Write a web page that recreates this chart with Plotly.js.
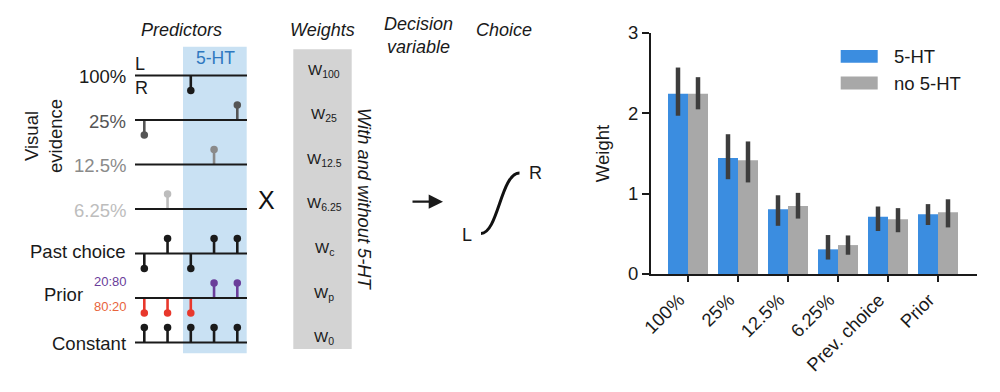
<!DOCTYPE html>
<html>
<head>
<meta charset="utf-8">
<script src="https://cdn.plot.ly/plotly-3.0.1.min.js"></script>
<style>html,body{margin:0;padding:0;background:#fff}#chart{width:1000px;height:392px}</style>
</head>
<body>
<div id="chart"></div>
<script>
// ---------- Bar chart data ----------
const categories = ['100%', '25%', '12.5%', '6.25%', 'Prev. choice', 'Prior'];
const weight5HT = [2.245, 1.445, 0.805, 0.307, 0.714, 0.743];
const weight5HTHigh = [2.57, 1.74, 0.98, 0.485, 0.84, 0.87];
const weight5HTLow = [1.97, 1.18, 0.60, 0.18, 0.535, 0.61];
const weightNo5HT = [2.245, 1.415, 0.847, 0.36, 0.68, 0.768];
const weightNo5HTHigh = [2.45, 1.65, 1.01, 0.48, 0.82, 0.93];
const weightNo5HTLow = [2.05, 1.14, 0.69, 0.24, 0.52, 0.58];
const seriesNames = ['5-HT', 'no 5-HT'];
const yTicks = [0, 1, 2, 3];

// ---------- Schematic data ----------
const predictorLabels = ['100%', '25%', '12.5%', '6.25%', 'Past choice', 'Prior', 'Constant'];
// stem direction per trial (+1 = up/L side, -1 = down/R side, 0 = none)
const predictorStems = [
  [0, 0, -1, 0, 0],
  [-1, 0, 0, 0, 1],
  [0, 0, 0, 1, 0],
  [0, 1, 0, 0, 0],
  [-1, 1, -1, 1, 1],
  [-1, -1, -1, 1, 1],
  [1, 1, 1, 1, 1]
];
const weightLabels = ['W<sub>100</sub>', 'W<sub>25</sub>', 'W<sub>12.5</sub>', 'W<sub>6.25</sub>', 'W<sub>c</sub>', 'W<sub>p</sub>', 'W<sub>0</sub>'];
const priorLabels = ['20:80', '80:20'];
const stageTitles = ['Predictors', 'Weights', 'Decision<br>variable', 'Choice'];

// ---------- styling ----------
const FONT = 'Liberation Sans, Arial, Helvetica, sans-serif';
const FS = 18.5;
const rowColors = ['#1a1a1a', '#555555', '#8a8a8a', '#bdbdbd', '#1a1a1a', '#1a1a1a', '#1a1a1a'];
const purple = '#6a3d9a', red = '#e8382c', orange = '#e8643c';
const rowY0 = 75.5, rowDY = 44.5, lineX0 = 135, lineX1 = 247;
const trialX0 = 144.3, trialDX = 23.25, stemLen = 15;
const blue = '#3b8de0', grey = '#a8a8a8', errColor = '#3d3d3d';

const traces = [];
const shapes = [];
const annotations = [];

// Schematic background elements
shapes.push({type: 'rect', xref: 'x2', yref: 'y2', x0: 183, x1: 246.7, y0: 46.7, y1: 353.3,
  fillcolor: '#c9e1f3', line: {width: 0}, layer: 'below'});
shapes.push({type: 'rect', xref: 'x2', yref: 'y2', x0: 293.3, x1: 351.7, y0: 49.3, y1: 349,
  fillcolor: '#d3d3d3', line: {width: 0}, layer: 'below'});

predictorLabels.forEach((lab, r) => {
  const ry = rowY0 + r * rowDY;
  shapes.push({type: 'line', xref: 'x2', yref: 'y2', x0: lineX0, x1: lineX1, y0: ry, y1: ry,
    line: {color: '#1a1a1a', width: 2}});
  predictorStems[r].forEach((s, t) => {
    if (!s) return;
    const tx = trialX0 + t * trialDX;
    let col = rowColors[r];
    if (lab === 'Prior') col = s > 0 ? purple : red;
    traces.push({x: [tx, tx], y: [ry, ry - s * stemLen], xaxis: 'x2', yaxis: 'y2', mode: 'lines',
      line: {color: col, width: 2.6}, hoverinfo: 'skip', showlegend: false});
    traces.push({x: [tx], y: [ry - s * stemLen], xaxis: 'x2', yaxis: 'y2', mode: 'markers',
      marker: {color: col, size: 7.5}, hoverinfo: 'skip', showlegend: false});
  });
  const isPrior = lab === 'Prior';
  annotations.push({xref: 'x2', yref: 'y2', x: isPrior ? 85 : 128, y: ry + (isPrior ? -4 : 1) - (lab === 'Past choice' ? 3 : 0),
    text: lab, showarrow: false, xanchor: 'right', yanchor: 'middle',
    font: {family: FONT, size: FS, color: rowColors[r]}});
});

annotations.push({xref: 'x2', yref: 'y2', x: 129, y: 281, text: priorLabels[0], showarrow: false,
  xanchor: 'right', yanchor: 'middle', font: {family: FONT, size: 13, color: purple}});
annotations.push({xref: 'x2', yref: 'y2', x: 129, y: 306.5, text: priorLabels[1], showarrow: false,
  xanchor: 'right', yanchor: 'middle', font: {family: FONT, size: 13, color: orange}});
annotations.push({xref: 'x2', yref: 'y2', x: 133, y: 63.5, text: 'L', showarrow: false,
  xanchor: 'left', yanchor: 'middle', font: {family: FONT, size: 18, color: '#1a1a1a'}});
annotations.push({xref: 'x2', yref: 'y2', x: 133, y: 88, text: 'R', showarrow: false,
  xanchor: 'left', yanchor: 'middle', font: {family: FONT, size: 18, color: '#1a1a1a'}});
annotations.push({xref: 'x2', yref: 'y2', x: 43, y: 136, text: 'Visual<br>evidence', showarrow: false,
  textangle: -90, xanchor: 'center', yanchor: 'middle', align: 'center',
  font: {family: FONT, size: FS, color: '#1a1a1a'}});
annotations.push({xref: 'x2', yref: 'y2', x: 215, y: 57.5, text: '5-HT', showarrow: false,
  xanchor: 'center', yanchor: 'middle', font: {family: FONT, size: 17.5, color: '#2e78c0'}});
annotations.push({xref: 'x2', yref: 'y2', x: 266, y: 200, text: 'X', showarrow: false,
  xanchor: 'center', yanchor: 'middle', font: {family: FONT, size: 25, color: '#111'}});

// stage titles
const titleX = [181, 322.5, 418, 503.5];
const titleY = [30, 30, 35, 30];
stageTitles.forEach((t, i) => {
  annotations.push({xref: 'x2', yref: 'y2', x: titleX[i], y: titleY[i], text: '<i>' + t + '</i>',
    showarrow: false, xanchor: 'center', yanchor: 'middle', align: 'center',
    font: {family: FONT, size: 18, color: '#1a1a1a'}});
});

// weights
weightLabels.forEach((w, i) => {
  annotations.push({xref: 'x2', yref: 'y2', x: 324, y: 70 + i * 44.6, text: w, showarrow: false,
    xanchor: 'center', yanchor: 'middle', font: {family: FONT, size: 15, color: '#1a1a1a'}});
});
annotations.push({xref: 'x2', yref: 'y2', x: 364.5, y: 199.5, text: '<i>With and without 5-HT</i>',
  showarrow: false, textangle: 90, xanchor: 'center', yanchor: 'middle',
  font: {family: FONT, size: 18.3, color: '#1a1a1a'}});

// arrow
annotations.push({xref: 'x2', yref: 'y2', axref: 'x2', ayref: 'y2', x: 443, y: 201.7, ax: 411, ay: 201.7,
  text: '', showarrow: true, arrowhead: 2, arrowsize: 1.3, arrowwidth: 2.2, arrowcolor: '#1a1a1a'});

// sigmoid
shapes.push({type: 'path', xref: 'x2', yref: 'y2',
  path: 'M481,233.5 C498,233.5 501,173 519.5,173', line: {color: '#111', width: 3}});
annotations.push({xref: 'x2', yref: 'y2', x: 467, y: 235, text: 'L', showarrow: false,
  xanchor: 'center', yanchor: 'middle', font: {family: FONT, size: 18, color: '#1a1a1a'}});
annotations.push({xref: 'x2', yref: 'y2', x: 535, y: 173, text: 'R', showarrow: false,
  xanchor: 'center', yanchor: 'middle', font: {family: FONT, size: 18, color: '#1a1a1a'}});

// ---------- bar chart ----------
const minus = (v, lo) => v.map((x, i) => x - lo[i]);
const plus = (v, hi) => v.map((x, i) => hi[i] - x);
traces.push({type: 'bar', x: categories, y: weight5HT, name: seriesNames[0], marker: {color: blue},
  error_y: {type: 'data', symmetric: false, array: plus(weight5HT, weight5HTHigh),
    arrayminus: minus(weight5HT, weight5HTLow), color: errColor, thickness: 4.5, width: 0},
  showlegend: false, hoverinfo: 'x+y'});
traces.push({type: 'bar', x: categories, y: weightNo5HT, name: seriesNames[1], marker: {color: grey},
  error_y: {type: 'data', symmetric: false, array: plus(weightNo5HT, weightNo5HTHigh),
    arrayminus: minus(weightNo5HT, weightNo5HTLow), color: errColor, thickness: 4.5, width: 0},
  showlegend: false, hoverinfo: 'x+y'});

// manual legend
const legendColors = [blue, grey];
seriesNames.forEach((n, i) => {
  const yc = 56.3 + i * 26.7;
  shapes.push({type: 'rect', xref: 'paper', yref: 'paper', x0: 0.8407, x1: 0.8777,
    y0: (392 - (yc + 6.4)) / 392, y1: (392 - (yc - 6.4)) / 392, fillcolor: legendColors[i], line: {width: 0}});
  annotations.push({xref: 'paper', yref: 'paper', x: 0.892, y: (392 - yc) / 392, text: n, showarrow: false,
    xanchor: 'left', yanchor: 'middle', font: {family: FONT, size: FS, color: '#1a1a1a'}});
});

const layout = {
  width: 1000, height: 392,
  margin: {l: 0, r: 0, t: 0, b: 0},
  paper_bgcolor: '#ffffff', plot_bgcolor: 'rgba(0,0,0,0)',
  font: {family: FONT, size: FS, color: '#1a1a1a'},
  barmode: 'group', bargap: 0.2, bargroupgap: 0,
  showlegend: false,
  xaxis: {type: 'category', domain: [0.651, 0.977], anchor: 'y', range: [-0.74, 5.78], showline: true, linecolor: '#1a1a1a',
    linewidth: 2, ticks: 'outside', ticklen: 6, tickwidth: 2, tickcolor: '#1a1a1a', tickangle: -45,
    ticklabelshift: -9,
    tickfont: {family: FONT, size: FS, color: '#1a1a1a'}, showgrid: false, zeroline: false, fixedrange: true},
  yaxis: {domain: [(392 - 274) / 392, (392 - 33) / 392], anchor: 'x', range: [0, 3], tickvals: yTicks,
    showline: true, linecolor: '#1a1a1a', linewidth: 2, ticks: 'outside', ticklen: 7, tickwidth: 2,
    tickcolor: '#1a1a1a', tickfont: {family: FONT, size: FS, color: '#1a1a1a'}, showgrid: false,
    zeroline: false, fixedrange: true,
    title: {text: 'Weight', font: {family: FONT, size: FS, color: '#1a1a1a'}, standoff: 14}},
  xaxis2: {domain: [0, 1], anchor: 'y2', range: [0, 1000], visible: false, fixedrange: true},
  yaxis2: {domain: [0, 1], anchor: 'x2', range: [392, 0], visible: false, fixedrange: true},
  shapes: shapes,
  annotations: annotations
};

Plotly.newPlot('chart', traces, layout, {displayModeBar: false, staticPlot: true});
</script>
</body>
</html>
